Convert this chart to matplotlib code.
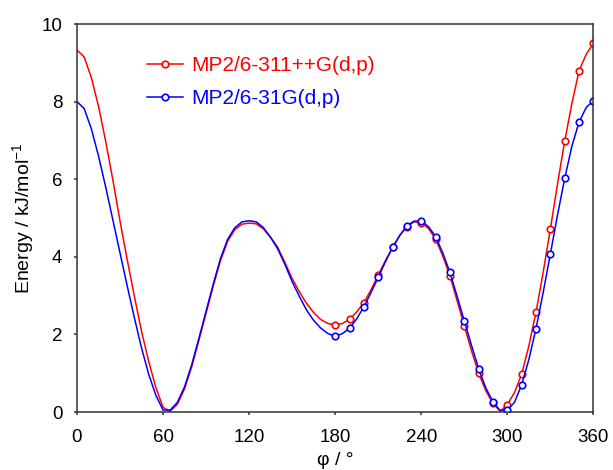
import matplotlib
matplotlib.use("Agg")
import matplotlib.pyplot as plt
import numpy as np

plt.rcParams['font.family'] = ['Liberation Sans', 'DejaVu Sans']
plt.rcParams['mathtext.fontset'] = 'custom'
plt.rcParams['mathtext.rm'] = 'Liberation Sans'
plt.rcParams['mathtext.it'] = 'Liberation Sans:italic'

# dihedral angle, 5 degree steps
phi = np.arange(0, 361, 5)

# MP2/6-311++G(d,p)
e_big = [9.33, 9.15, 8.62, 7.88, 6.98, 5.98, 4.92, 3.93, 2.98, 2.08,
         1.30, 0.63, 0.12, 0.02, 0.20, 0.60, 1.17, 1.85, 2.55, 3.25,
         3.90, 4.40, 4.70, 4.84, 4.87, 4.85, 4.72, 4.50, 4.24, 3.85,
         3.44, 3.10, 2.80, 2.56, 2.38, 2.28, 2.24, 2.28, 2.39, 2.58,
         2.82, 3.15, 3.53, 3.90, 4.24, 4.55, 4.78, 4.90, 4.88, 4.73,
         4.46, 4.02, 3.51, 2.87, 2.22, 1.58, 1.00, 0.55, 0.22, 0.02,
         0.19, 0.50, 0.98, 1.70, 2.57, 3.60, 4.71, 5.88, 6.98, 7.95,
         8.79, 9.22, 9.50]

# MP2/6-31G(d,p)
e_small = [8.00, 7.82, 7.30, 6.60, 5.80, 4.95, 4.10, 3.25, 2.43, 1.65,
           0.97, 0.43, 0.05, 0.05, 0.25, 0.65, 1.22, 1.90, 2.60, 3.30,
           3.95, 4.45, 4.75, 4.90, 4.93, 4.90, 4.75, 4.50, 4.20, 3.80,
           3.36, 2.98, 2.63, 2.36, 2.16, 2.02, 1.95, 2.02, 2.16, 2.40,
           2.71, 3.08, 3.47, 3.87, 4.24, 4.55, 4.80, 4.92, 4.92, 4.78,
           4.52, 4.10, 3.60, 2.98, 2.35, 1.72, 1.12, 0.62, 0.26, 0.04,
           0.05, 0.25, 0.70, 1.35, 2.15, 3.08, 4.07, 5.08, 6.02, 6.85,
           7.47, 7.85, 8.02]

labels = ['MP2/6-311++G(d,p)', 'MP2/6-31G(d,p)']
colors = ['#ff0000', '#0000ff']

# computed points only from 180 degrees on (every 10 degrees)
marks = slice(36, None, 2)

fig = plt.figure(figsize=(6.13, 4.70), dpi=100)
ax = fig.add_axes([0.1256, 0.1234, 0.8424, 0.8255])

for e, lab, c in zip([e_big, e_small], labels, colors):
    ax.plot(phi, e, color=c, lw=1.1, marker='o', markevery=marks,
            ms=4.7, mfc='white', mec=c, mew=1.2, label=lab)

ax.set_xlim(0, 360)
ax.set_ylim(0, 10)
ax.set_xticks(np.arange(0, 361, 60))
ax.set_yticks(np.arange(0, 11, 2))

for s in ax.spines.values():
    s.set_color('#333333')
    s.set_linewidth(1.1)
ax.tick_params(direction='out', length=2.5, width=1.1, color='#333333',
               labelsize=13.5)
ax.tick_params(axis='y', pad=8)
ax.tick_params(axis='x', pad=10)

ax.set_xlabel('φ / °', fontsize=14, labelpad=4)
ax.set_ylabel(r'Energy / kJ/mol$^{-1}$', fontsize=14, labelpad=4)

leg = ax.legend(loc='upper left', bbox_to_anchor=(0.135, 0.918),
                frameon=False, fontsize=15, handlelength=1.75,
                handletextpad=0.4, labelspacing=0.7, borderpad=0,
                borderaxespad=0)
for t, c in zip(leg.get_texts(), colors):
    t.set_color(c)

fig.savefig('out.png', dpi=100)
